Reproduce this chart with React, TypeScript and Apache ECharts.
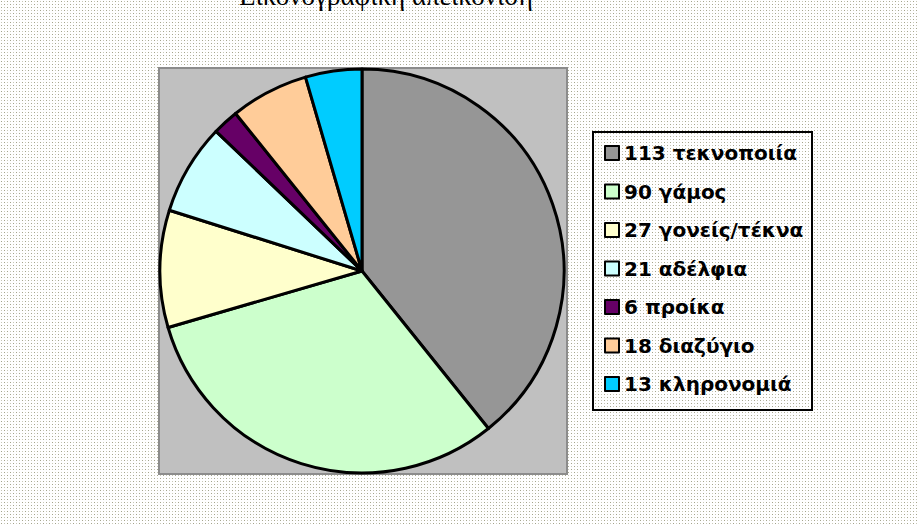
import React, { useEffect, useRef } from "react";
import * as echarts from "echarts";

const categories = ["τεκνοποιία", "γάμος", "γονείς/τέκνα", "αδέλφια", "προίκα", "διαζύγιο", "κληρονομιά"];
const values = [113, 90, 27, 21, 6, 18, 13];
const colors = ["#969696", "#ccffcc", "#ffffcc", "#ccffff", "#660066", "#ffcc99", "#00ccff"];
const titleText = "Εικονογραφική απεικόνιση";

const pattern =
  "url(\"data:image/svg+xml,%3Csvg xmlns='http://www.w3.org/2000/svg' width='6' height='6'%3E%3Crect x='1' y='1' width='1' height='1' fill='%23a4a48c'/%3E%3Crect x='4' y='1' width='1' height='1' fill='%23c8c8b8'/%3E%3Crect x='1' y='4' width='1' height='1' fill='%23c8c8b8'/%3E%3Crect x='4' y='4' width='1' height='1' fill='%23a4a48c'/%3E%3C/svg%3E\")";

export default function App() {
  const ref = useRef<HTMLDivElement>(null);
  useEffect(() => {
    document.body.style.margin = "0";
    const chart = echarts.init(ref.current!, null, { renderer: "svg" });
    const data = categories.map((c, i) => ({ name: c, value: values[i], itemStyle: { color: colors[i] } }));
    chart.setOption({
      animation: false,
      backgroundColor: "transparent",
      graphic: [
        {
          type: "rect",
          z: 0,
          shape: { x: 159, y: 68, width: 408, height: 406 },
          style: { fill: "#c0c0c0", stroke: "#8c8c8c", lineWidth: 2 },
        },
        {
          type: "rect",
          z: 0,
          shape: { x: 593, y: 132, width: 219, height: 278 },
          style: { fill: "transparent", stroke: "#000", lineWidth: 2 },
        },
        {
          type: "text",
          z: 5,
          x: 386,
          y: 9,
          style: {
            text: titleText,
            fill: "#000",
            font: "27px 'Liberation Serif', serif",
            textAlign: "center",
            textVerticalAlign: "bottom",
          },
        },
      ],
      legend: {
        orient: "vertical",
        left: 604,
        top: 143,
        padding: 0,
        itemGap: 18.5,
        itemWidth: 14,
        itemHeight: 14,
        icon: "rect",
        selectedMode: false,
        itemStyle: { borderColor: "#000", borderWidth: 2 },
        textStyle: {
          fontFamily: "'DejaVu Sans', sans-serif",
          fontWeight: "bold",
          fontSize: 20,
          color: "#000",
        },
        formatter: (name: string) => {
          const i = categories.indexOf(name);
          return `${values[i]} ${name}`;
        },
        data: categories,
      },
      series: [
        {
          type: "pie",
          center: [362, 271],
          radius: 202,
          startAngle: 90,
          clockwise: true,
          label: { show: false },
          labelLine: { show: false },
          emphasis: { disabled: true },
          itemStyle: { borderColor: "#000", borderWidth: 3 },
          data,
        },
      ],
    });
    return () => chart.dispose();
  }, []);
  return (
    <div
      ref={ref}
      style={{ width: 917, height: 524, backgroundColor: "#fff", backgroundImage: pattern }}
    />
  );
}
